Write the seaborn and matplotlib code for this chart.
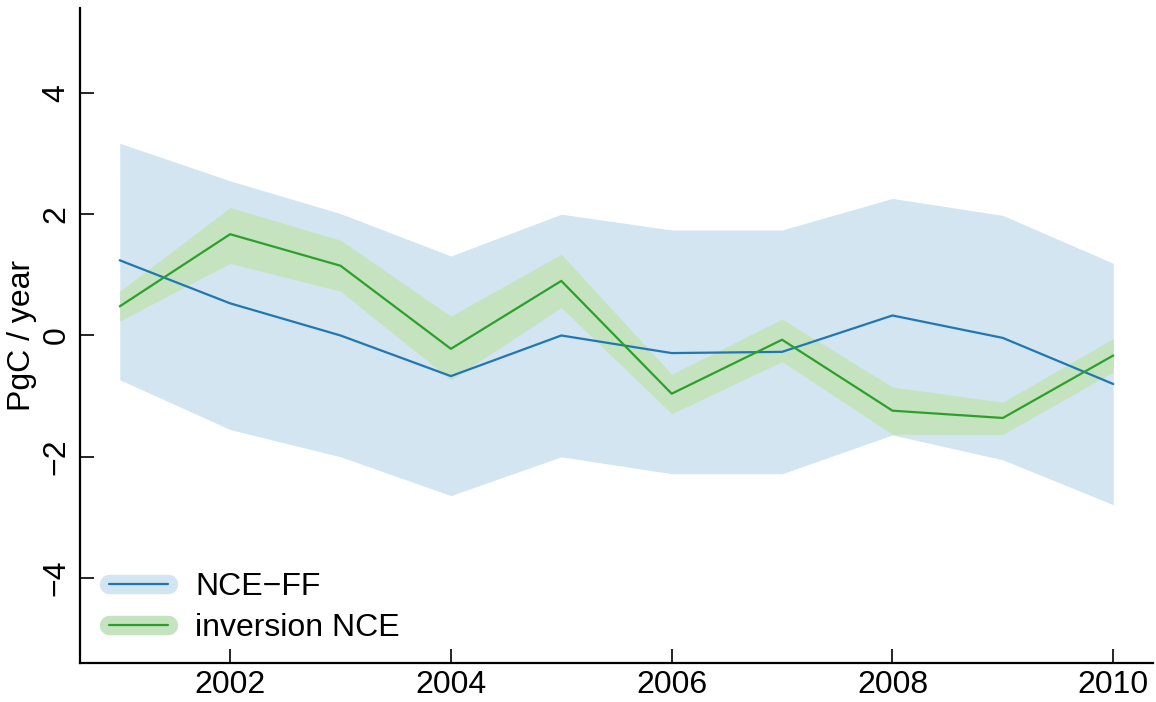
import numpy as np
import pandas as pd
import matplotlib
matplotlib.use("Agg")
import matplotlib.pyplot as plt
from matplotlib.lines import Line2D
from matplotlib.legend_handler import HandlerTuple
import seaborn as sns

# Values
years = [2001, 2002, 2003, 2004, 2005, 2006, 2007, 2008, 2009, 2010]

nce_ff = [1.24, 0.53, 0.00, -0.67, 0.00, -0.29, -0.27, 0.33, -0.04, -0.80]
nce_ff_hi = [3.17, 2.55, 2.01, 1.31, 2.00, 1.74, 1.74, 2.26, 1.98, 1.19]
nce_ff_lo = [-0.73, -1.55, -2.00, -2.64, -2.00, -2.28, -2.28, -1.64, -2.05, -2.79]

inv_nce = [0.48, 1.67, 1.15, -0.22, 0.90, -0.96, -0.07, -1.24, -1.36, -0.33]
inv_nce_hi = [0.73, 2.11, 1.57, 0.32, 1.34, -0.64, 0.27, -0.85, -1.10, -0.05]
inv_nce_lo = [0.24, 1.19, 0.73, -0.73, 0.46, -1.29, -0.43, -1.63, -1.63, -0.60]

labels = ["NCE\u2212FF", "inversion NCE"]
x_ticks = [2002, 2004, 2006, 2008, 2010]
y_ticks = [-4, -2, 0, 2, 4]

blue, blue_band = "#1f77b4", "#d2e5f1"
green, green_band = "#2ca02c", "#c5e3bf"

df = pd.DataFrame({
    "year": years * 2,
    "value": nce_ff + inv_nce,
    "series": [labels[0]] * len(years) + [labels[1]] * len(years),
})

sns.set_theme(style="ticks")
plt.rcParams["font.family"] = ["Liberation Sans", "DejaVu Sans"]
plt.rcParams["text.color"] = "black"
plt.rcParams["axes.labelcolor"] = "black"

fig = plt.figure(figsize=(11.56, 7.02), dpi=100)
ax = fig.add_axes([0.0692, 0.0556, 0.9282, 0.933])

ax.fill_between(years, nce_ff_lo, nce_ff_hi, color=blue_band, lw=0, zorder=1)
ax.fill_between(years, inv_nce_lo, inv_nce_hi, color=green_band, lw=0, zorder=2)
sns.lineplot(data=df, x="year", y="value", hue="series",
             palette=[blue, green], linewidth=1.6, ax=ax, legend=False, zorder=3)

ax.set_xlim(2000.64, 2010.36)
ax.set_ylim(-5.4, 5.4)
ax.set_xticks(x_ticks)
ax.set_yticks(y_ticks)
ax.set_xlabel("")
ax.set_ylabel("PgC / year", fontsize=23, labelpad=3)

ax.tick_params(axis="both", direction="in", length=10, width=1.2,
               labelsize=23, color="black", labelcolor="black")
ax.tick_params(axis="x", pad=5)
ax.tick_params(axis="y", pad=6)
for lab in ax.get_yticklabels():
    lab.set_rotation(90)
    lab.set_va("center")

sns.despine(ax=ax)
for side in ["left", "bottom"]:
    ax.spines[side].set_linewidth(1.6)
    ax.spines[side].set_color("black")

handles = [
    (Line2D([], [], color=blue_band, lw=14, solid_capstyle="round"),
     Line2D([], [], color=blue, lw=1.6)),
    (Line2D([], [], color=green_band, lw=14, solid_capstyle="round"),
     Line2D([], [], color=green, lw=1.6)),
]
ax.legend(handles, labels, handler_map={tuple: HandlerTuple(ndivide=1, pad=0)},
          loc="lower left", bbox_to_anchor=(0.027, 0.03), frameon=False,
          fontsize=23, handlelength=1.85, handletextpad=0.85, labelspacing=0.35,
          borderpad=0, borderaxespad=0)

fig.savefig("out.png", dpi=100)
